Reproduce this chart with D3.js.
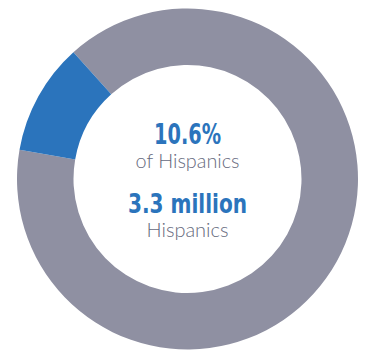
<!DOCTYPE html>
<head>
  <style>
    body { margin: 0; background: #ffffff; }
    .big { font-family: "DejaVu Sans Condensed", "Liberation Sans Narrow", sans-serif; font-stretch: condensed; font-weight: bold; fill: #2b74bc; }
    .small { font-family: Lato, "Open Sans", sans-serif; font-weight: 300; fill: #666a7d; }
  </style>
  <script src="https://d3js.org/d3.v7.min.js"></script>
</head>
<body>
<div class="home"></div>
<script>
    // share of Hispanics
    const labels = ["Other", "Share"];
    const shares = [89.4, 10.6];
    const colors = ["#8f90a2", "#2b74bc"];
    const centerLines = ["10.6%", "of Hispanics", "3.3 million", "Hispanics"];

    const width = 365, height = 352;
    const cx = 187.5, cy = 179;

    const svg = d3.select(".home").append("svg")
        .attr("width", width)
        .attr("height", height);

    const g = svg.append("g").attr("transform", `translate(${cx},${cy})`);

    // gray starts where the blue slice ends (upper left)
    const start = -42 * Math.PI / 180;
    const pie = d3.pie().sort(null)
        .startAngle(start)
        .endAngle(start + 2 * Math.PI);

    const arc = d3.arc().innerRadius(114).outerRadius(170.5);

    g.selectAll("path")
        .data(pie(shares))
        .enter().append("path")
        .attr("d", arc)
        .attr("fill", (d, i) => colors[i]);

    //center text, squeezed to the widths in the original
    const txt = [
        {t: centerLines[0], y: 144 - cy, cls: "big", size: 28, w: 67},
        {t: centerLines[1], y: 168 - cy, cls: "small", size: 19, w: 104},
        {t: centerLines[2], y: 213 - cy, cls: "big", size: 27, w: 119},
        {t: centerLines[3], y: 237 - cy, cls: "small", size: 19, w: 82}
    ];
    g.selectAll("text")
        .data(txt)
        .enter().append("text")
        .attr("class", d => d.cls)
        .attr("text-anchor", "middle")
        .attr("x", 0)
        .attr("y", d => d.y)
        .attr("textLength", d => d.w)
        .attr("lengthAdjust", "spacingAndGlyphs")
        .style("font-size", d => d.size + "px")
        .text(d => d.t);
</script>
</body>
